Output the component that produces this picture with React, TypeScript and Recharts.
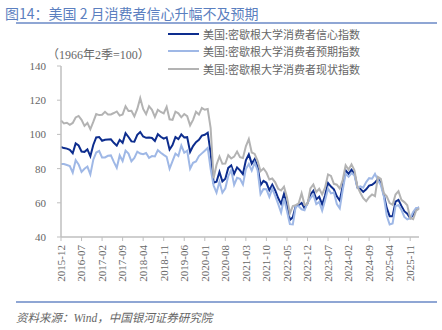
import React from 'react';
import { LineChart, Line, XAxis, YAxis } from 'recharts';

// 美国密歇根大学消费者信心指数（月度）
const START_YEAR = 2015;
const START_MONTH = 12;

const sentiment = [
  92.6,
  92.0, 91.7, 91.0, 89.0, 94.7, 93.5, 90.0, 89.8, 91.2, 87.2, 93.8, 98.2,
  98.5, 96.3, 96.9, 97.0, 97.1, 95.1, 93.4, 96.8, 95.1, 100.7, 98.5, 95.9,
  95.7, 99.7, 101.4, 98.8, 98.0, 98.2, 97.9, 96.2, 100.1, 98.6, 97.5, 98.3,
  91.2, 93.8, 98.4, 97.2, 100.0, 98.2, 98.4, 89.8, 93.2, 95.5, 96.8, 99.3,
  99.8, 101.0, 89.1, 71.8, 72.3, 78.1, 72.5, 74.1, 80.4, 81.8, 76.9, 80.7,
  79.0, 76.8, 84.9, 88.3, 82.9, 85.5, 81.2, 70.3, 72.8, 71.7, 67.4, 70.6,
  67.2, 62.8, 59.4, 65.2, 58.4, 50.0, 51.5, 58.2, 58.6, 59.9, 56.8, 59.7,
  64.9, 67.0, 62.0, 63.5, 59.0, 64.4, 71.6, 69.5, 67.9, 63.8, 61.3, 69.7,
  79.0, 76.9, 79.4, 77.2, 69.1, 68.2, 66.4, 67.9, 70.1, 70.5, 71.8, 74.0,
  71.7, 64.7, 57.0, 52.2, 52.2, 60.7, 61.7, 58.2, 55.1, 53.6, 51.0, 52.9,
  56.4, 57.3,
];

const expectations = [
  82.7,
  82.7, 82.1, 81.5, 77.6, 84.9, 82.4, 78.1, 79.9, 81.2, 76.6, 85.2, 89.4,
  90.3, 86.5, 86.5, 87.5, 87.7, 83.9, 80.5, 87.7, 84.4, 90.5, 88.8, 84.3,
  86.2, 89.9, 88.8, 88.4, 89.1, 86.3, 87.3, 87.1, 90.8, 89.3, 88.0, 86.9,
  79.9, 84.4, 88.8, 87.4, 93.5, 89.3, 90.5, 79.9, 83.4, 84.2, 87.3, 88.9,
  90.5, 92.1, 79.7, 70.1, 65.9, 72.3, 65.9, 68.5, 75.6, 79.2, 70.5, 74.6,
  74.0, 70.7, 79.7, 82.7, 78.8, 83.5, 79.0, 65.1, 68.1, 67.9, 63.5, 68.3,
  64.1, 59.4, 54.3, 62.5, 55.2, 47.5, 47.3, 58.0, 58.0, 56.2, 55.6, 59.9,
  62.7, 64.7, 59.2, 60.5, 55.4, 61.5, 68.3, 65.5, 66.0, 59.3, 56.8, 67.4,
  77.1, 75.2, 77.4, 76.0, 68.8, 69.6, 68.8, 72.1, 74.4, 74.1, 76.9, 73.3,
  70.2, 64.0, 52.6, 47.3, 47.9, 58.1, 58.6, 55.9, 51.7, 50.3, 51.0, 54.6,
  57.0, 57.0,
];

const current = [
  108.1,
  106.4, 106.8, 105.6, 106.7, 109.9, 110.8, 108.5, 105.0, 106.7, 103.0, 107.3, 111.9,
  111.3, 111.5, 113.2, 111.7, 111.7, 112.5, 113.4, 111.0, 111.7, 116.5, 113.7, 113.8,
  110.5, 114.9, 121.2, 114.9, 111.8, 116.5, 114.4, 110.3, 114.4, 113.1, 112.3, 116.1,
  108.8, 108.5, 113.3, 112.3, 110.0, 111.9, 110.7, 105.3, 108.5, 113.2, 111.6, 115.5,
  114.4, 114.8, 103.7, 74.3, 82.3, 87.1, 82.8, 82.9, 87.8, 85.9, 87.0, 90.0,
  86.7, 86.2, 93.0, 97.2, 89.4, 88.6, 84.5, 78.5, 80.1, 77.7, 73.6, 74.2,
  72.0, 68.2, 67.2, 69.4, 63.3, 53.8, 58.1, 58.6, 59.7, 65.6, 58.8, 59.4,
  68.4, 70.7, 66.3, 68.2, 64.9, 69.0, 76.6, 75.7, 71.1, 70.6, 68.3, 73.3,
  81.9, 79.4, 82.5, 79.0, 69.6, 65.9, 62.7, 60.9, 63.3, 64.9, 63.9, 75.1,
  74.0, 65.7, 63.8, 59.8, 58.9, 64.8, 66.8, 61.7, 60.4, 58.6, 51.1, 50.4,
  55.4, 56.6,
];

const yTicks = [40, 60, 80, 100, 120, 140];

const SERIES = [
  { key: 'sentiment', name: '美国:密歇根大学消费者信心指数', color: '#0D2D8E' },
  { key: 'expectations', name: '美国:密歇根大学消费者预期指数', color: '#9FB8E6' },
  { key: 'current', name: '美国:密歇根大学消费者现状指数', color: '#B3B3B3' },
];

const months = sentiment.map((_, i) => {
  const m0 = START_MONTH - 1 + i;
  const y = START_YEAR + Math.floor(m0 / 12);
  const m = (m0 % 12) + 1;
  return `${y}-${m < 10 ? '0' + m : m}`;
});

const data = months.map((month, i) => ({
  month,
  sentiment: sentiment[i],
  expectations: expectations[i],
  current: current[i],
}));

const FONT = "'Liberation Serif', 'Noto Sans CJK SC', serif";
const CJK = "'Noto Sans CJK SC', sans-serif";
const TEXT = '#666666';
const AXIS = '#BFBFBF';

const MonthTick = ({ x, y, payload }: any) => (
  <text
    x={x}
    y={y + 2}
    dy="0.35em"
    transform={`rotate(-90, ${x}, ${y + 2})`}
    textAnchor="end"
    fontSize={11}
    fontFamily={FONT}
    fill={TEXT}
  >
    {payload.value}
  </text>
);

export default function App() {
  return (
    <div style={{ position: 'fixed', left: 0, top: 0, width: 442, height: 330, background: '#fff', overflow: 'hidden' }}>
      <div style={{ position: 'absolute', left: 5, top: 3, fontFamily: CJK, fontSize: 14, color: '#5B7FC0', whiteSpace: 'nowrap' }}>
        图14：美国 2 月消费者信心升幅不及预期
      </div>
      <div style={{ position: 'absolute', left: 16, top: 22, width: 421, height: 1.5, background: '#8FA6D4' }} />
      <div style={{ position: 'absolute', left: 47, top: 45, fontFamily: FONT, fontSize: 12, color: TEXT, whiteSpace: 'nowrap' }}>
        （1966年2季=100）
      </div>

      {/* legend */}
      <div style={{ position: 'absolute', left: 168, top: 25, fontFamily: CJK, fontSize: 11, color: TEXT, zIndex: 2 }}>
        {SERIES.map((s) => (
          <div key={s.key} style={{ display: 'flex', alignItems: 'center', height: 17.5, whiteSpace: 'nowrap' }}>
            <div style={{ width: 31, height: 2, background: s.color, marginRight: 4 }} />
            <span>{s.name}</span>
          </div>
        ))}
      </div>

      <LineChart width={442} height={300} data={data} margin={{ top: 66, right: 23, bottom: 0, left: 0 }}>
        <XAxis
          dataKey="month"
          interval={6}
          height={63}
          tick={<MonthTick />}
          tickSize={4}
          tickLine={{ stroke: AXIS }}
          axisLine={{ stroke: AXIS, strokeWidth: 1.5 }}
          padding={{ left: 0, right: 0 }}
        />
        <YAxis
          width={61}
          domain={[40, 140]}
          ticks={yTicks}
          allowDataOverflow
          tickSize={4}
          tickMargin={11}
          tickLine={{ stroke: AXIS }}
          axisLine={{ stroke: AXIS, strokeWidth: 1.5 }}
          tick={{ fontSize: 11, fontFamily: FONT, fill: TEXT }}
        />
        {SERIES.map((s) => (
          <Line
            key={s.key}
            type="linear"
            dataKey={s.key}
            name={s.name}
            stroke={s.color}
            strokeWidth={2}
            dot={false}
            isAnimationActive={false}
          />
        ))}
      </LineChart>

      <div style={{ position: 'absolute', left: 16, top: 301, width: 421, height: 1.5, background: '#8FA6D4' }} />
      <div style={{ position: 'absolute', left: 16, top: 309, fontFamily: FONT, fontSize: 11.5, fontStyle: 'italic', color: TEXT, whiteSpace: 'nowrap' }}>
        资料来源：Wind，中国银河证券研究院
      </div>
    </div>
  );
}
